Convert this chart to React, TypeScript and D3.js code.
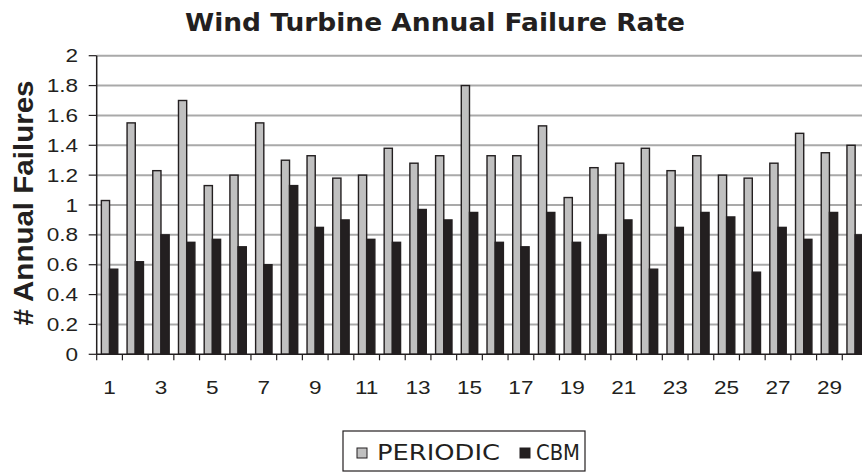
import React, { useMemo } from 'react'
import * as d3 from 'd3'

const width = 862
const height = 473

const turbines = d3.range(1, 31)
const seriesNames = ['PERIODIC', 'CBM']
const periodicValues = [1.03, 1.55, 1.23, 1.7, 1.13, 1.2, 1.55, 1.3, 1.33, 1.18,
  1.2, 1.38, 1.28, 1.33, 1.8, 1.33, 1.33, 1.53, 1.05, 1.25,
  1.28, 1.38, 1.23, 1.33, 1.2, 1.18, 1.28, 1.48, 1.35, 1.4]
const cbmValues = [0.57, 0.62, 0.8, 0.75, 0.77, 0.72, 0.6, 1.13, 0.85, 0.9,
  0.77, 0.75, 0.97, 0.9, 0.95, 0.75, 0.72, 0.95, 0.75, 0.8,
  0.9, 0.57, 0.85, 0.95, 0.92, 0.55, 0.85, 0.77, 0.95, 0.8]
const yTicks = [0, 0.2, 0.4, 0.6, 0.8, 1, 1.2, 1.4, 1.6, 1.8, 2]
const seriesColors = ['#c0c0c0', '#231f20']

const plot = { left: 96.7, right: 868, top: 55.7, bottom: 354.3 }
const labelFont = '"Liberation Sans", Arial, sans-serif'
const stretch = 1.22

function App() {
  const x = useMemo(
    () => d3.scaleBand<number>().domain(turbines).range([plot.left, plot.right]).padding(0),
    []
  )
  const barW = 8.2
  const sub = useMemo(() => {
    const pad = (x.bandwidth() - barW * 2) / 2
    return d3.scaleBand<string>().domain(seriesNames).range([pad, x.bandwidth() - pad])
  }, [x])
  const y = useMemo(
    () => d3.scaleLinear().domain([0, 2]).range([plot.bottom, plot.top]),
    []
  )
  const series = [periodicValues, cbmValues]

  return (
    <svg width={width} height={height} style={{ position: 'absolute', left: 0, top: 0, background: '#fff' }}>
      <text x={435} y={31} textAnchor="middle" textLength={500} lengthAdjust="spacingAndGlyphs"
        style={{ font: 'bold 25px "DejaVu Sans", Verdana, sans-serif', fill: '#231f20' }}>
        Wind Turbine Annual Failure Rate
      </text>

      {/* gridlines */}
      {yTicks.filter(t => t > 0).map(t => (
        <line key={t} x1={plot.left} x2={width} y1={y(t)} y2={y(t)} stroke="#a9a9a9" strokeWidth={2} />
      ))}

      {/* bars */}
      {turbines.map((id, i) => (
        <g key={id} transform={`translate(${x(id)},0)`}>
          {seriesNames.map((name, s) => (
            <rect key={name}
              x={sub(name)!} width={sub.bandwidth()}
              y={y(series[s][i])} height={y(0) - y(series[s][i])}
              fill={seriesColors[s]} stroke="#231f20" strokeWidth={1.4} />
          ))}
        </g>
      ))}

      {/* y axis */}
      <line x1={plot.left} x2={plot.left} y1={plot.top} y2={plot.bottom} stroke="#231f20" strokeWidth={1.5} />
      {yTicks.map(t => (
        <g key={t}>
          <line x1={plot.left - 8} x2={plot.left} y1={y(t)} y2={y(t)} stroke="#231f20" strokeWidth={1.2} />
          <text transform={`translate(78,${y(t) + 6.5}) scale(${stretch},1)`} textAnchor="end"
            style={{ font: `18.5px ${labelFont}`, fill: '#231f20' }}>
            {d3.format('~g')(t)}
          </text>
        </g>
      ))}

      {/* x axis */}
      <line x1={plot.left} x2={width} y1={plot.bottom} y2={plot.bottom} stroke="#231f20" strokeWidth={1.5} />
      {turbines.map(id => (
        <line key={id} x1={x(id)!} x2={x(id)!} y1={plot.bottom} y2={plot.bottom + 6} stroke="#231f20" strokeWidth={1.2} />
      ))}
      {turbines.filter(id => id % 2 === 1).map(id => (
        <text key={id} transform={`translate(${x(id)! + x.bandwidth() / 2},394) scale(${stretch},1)`}
          textAnchor="middle" style={{ font: `18.5px ${labelFont}`, fill: '#231f20' }}>
          {id}
        </text>
      ))}

      <text transform="translate(33,203) rotate(-90)" textAnchor="middle" textLength={245} lengthAdjust="spacingAndGlyphs"
        style={{ font: `bold 27px ${labelFont}`, fill: '#231f20' }}>
        # Annual Failures
      </text>

      {/* legend */}
      <rect x={343} y={431} width={242} height={40} fill="#fff" stroke="#231f20" strokeWidth={1.2} />
      <rect x={357} y={448} width={10} height={10} fill={seriesColors[0]} stroke="#231f20" strokeWidth={1} />
      <text x={377} y={460} textLength={123} lengthAdjust="spacingAndGlyphs"
        style={{ font: '21px "DejaVu Sans", Verdana, sans-serif', fill: '#231f20' }}>
        {seriesNames[0]}
      </text>
      <rect x={520} y={448} width={10} height={10} fill={seriesColors[1]} stroke="#231f20" strokeWidth={1} />
      <text x={536} y={460} textLength={44} lengthAdjust="spacingAndGlyphs"
        style={{ font: '21px "DejaVu Sans", Verdana, sans-serif', fill: '#231f20' }}>
        {seriesNames[1]}
      </text>
    </svg>
  )
}

export default App
